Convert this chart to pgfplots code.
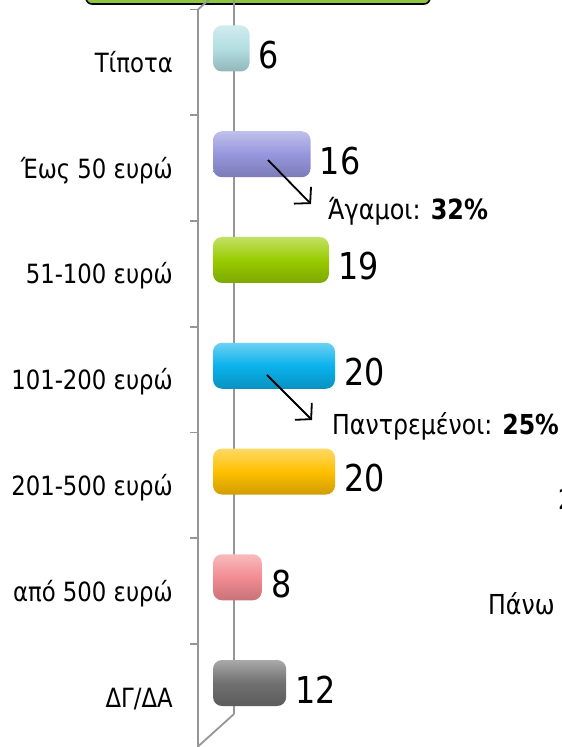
\documentclass[border=0pt]{standalone}
\usepackage{fontspec}
\setmainfont{DejaVu Sans}[FakeStretch=0.86]
\usepackage{pgfplots}
\pgfplotsset{compat=1.18}
\usetikzlibrary{arrows.meta}
\definecolor{cNone}{RGB}{178,222,226}
\definecolor{cFifty}{RGB}{150,150,222}
\definecolor{cHundred}{RGB}{153,204,0}
\definecolor{cTwoH}{RGB}{10,178,235}
\definecolor{cFiveH}{RGB}{255,192,0}
\definecolor{cOver}{RGB}{242,140,146}
\definecolor{cDK}{RGB}{112,112,112}
\definecolor{frameGray}{RGB}{150,150,150}
\definecolor{titleGreen}{RGB}{141,198,63}
\pgfplotsset{bar3d/.style={xbar, bar width=46pt, bar shift=0pt, draw=none,
  rounded corners=9pt,
  top color=#1!60!white, bottom color=#1!82!black, middle color=#1,
  nodes near coords={\pgfmathprintnumber[assume math mode=true]{\pgfplotspointmeta}},
  point meta=x,
  nodes near coords style={anchor=base west, inner sep=0pt, xshift=9pt, yshift=-20pt,
    text=black, font=\fontsize{37}{40}\selectfont}}}
\begin{document}
\begin{tikzpicture}[x=1pt,y=1pt]
\clip (0,0) rectangle (562,747);
% title box (cut off at top)
\draw[fill=titleGreen, line width=1.6pt, rounded corners=6pt] (86,743) rectangle (430,790);
% 3D frame
\draw[frameGray, line width=1.8pt] (234,780) -- (234,33);
\draw[frameGray, line width=1.8pt] (198,737.5) -- (198,-2);
\draw[frameGray, line width=1.8pt] (198,0.5) -- (234,33);
\draw[frameGray, line width=1.8pt] (198,737.5) -- (234,769.5);
\foreach \k in {0,...,7}{
  \draw[frameGray, line width=1.8pt] (190,{737.5-105.75*\k}) -- (198,{737.5-105.75*\k});
}
\begin{axis}[at={(0,0)}, anchor=south west, scale only axis,
  width=562pt, height=747pt,
  xmin=-34.918, xmax=57.213, ymin=-0.45863, ymax=6.6052, y dir=reverse,
  axis line style={draw=none}, tick style={draw=none},
  /pgf/number format/assume math mode=true,
  xtick=\empty, ytick={0,...,6},
  yticklabels={Τίποτα, Έως 50 ευρώ, 51-100 ευρώ, 101-200 ευρώ, 201-500 ευρώ, από 500 ευρώ, ΔΓ/ΔΑ},
  yticklabel style={anchor=base east, inner sep=0pt, xshift=173pt, yshift=-24pt,
    font=\fontsize{26.5}{30}\selectfont},
  clip=false]
\addplot[bar3d=cNone] coordinates {(6,0)};
\addplot[bar3d=cFifty] coordinates {(16,1)};
\addplot[bar3d=cHundred] coordinates {(19,2)};
\addplot[bar3d=cTwoH] coordinates {(20,3)};
\addplot[bar3d=cFiveH] coordinates {(20,4)};
\addplot[bar3d=cOver] coordinates {(8,5)};
\addplot[bar3d=cDK] coordinates {(12,6)};
\end{axis}
% annotations
\draw[line width=1.8pt, -{Straight Barb[length=11pt,width=24pt]}] (268,587) -- (311,543);
\draw[line width=1.8pt, -{Straight Barb[length=11pt,width=24pt]}] (267,372) -- (312,327);
\node[anchor=base west, inner sep=0pt, font=\fontsize{27.8}{30}\selectfont] at (328,527) {Άγαμοι: \textbf{32\%}};
\node[anchor=base west, inner sep=0pt, font=\fontsize{27.5}{30}\selectfont] at (332,312) {Παντρεμένοι: \textbf{25\%}};
\node[anchor=base west, inner sep=0pt, font=\fontsize{27.5}{30}\selectfont] at (558,237) {25\%};
\node[anchor=base west, inner sep=0pt, font=\fontsize{27.5}{30}\selectfont] at (488,132) {Πάνω από 500 ευρώ};
\end{tikzpicture}
\end{document}
